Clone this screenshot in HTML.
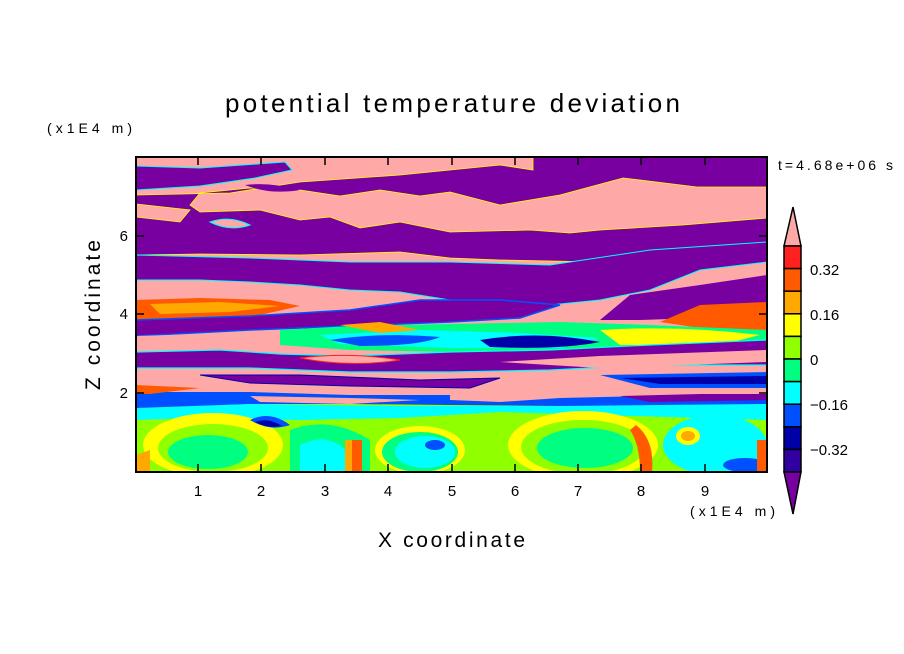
<!DOCTYPE html>
<html><head><meta charset="utf-8"><style>
html,body{margin:0;padding:0;background:#fff;}
svg{display:block;font-family:"Liberation Sans","DejaVu Sans",sans-serif;}
</style></head><body>
<svg width="904" height="654" viewBox="0 0 904 654" xmlns="http://www.w3.org/2000/svg">
<rect width="904" height="654" fill="#fff"/>
<defs><clipPath id="c"><rect x="136" y="157" width="631" height="315"/></clipPath></defs>
<g clip-path="url(#c)">
<rect x="136" y="157" width="631" height="250" fill="#ffa8a8"/>
<rect x="136" y="400" width="631" height="72" fill="#90ff00"/>
<path d="M136,166 L200,168 L285,162 L292,170 L255,178 L200,186 L136,190 Z" fill="#7800a0" stroke="#00ffff" stroke-width="1"/>
<path d="M533,157 L767,157 L767,187 L697,187 L623,178 L560,195 L530,200 L500,205 L450,192 L420,196 L380,190 L340,196 L300,190 L250,188 L200,193 L190,205 L200,212 L260,210 L300,220 L330,217 L360,228 L400,222 L450,232 L530,230 L570,233 L600,230 L683,225 L767,218 L767,245 L700,250 L600,262 L500,260 L450,258 L400,252 L300,255 L200,254 L136,255 L136,217 L180,222 L190,210 L136,204 L136,195 L230,193 L300,182 L400,175 L450,170 L500,165 L533,170 Z" fill="#7800a0" stroke="#ffff00" stroke-width="0.8"/>
<path d="M210,222 Q230,215 250,225 Q230,232 210,222 Z" fill="#ffa8a8" stroke="#00ffff"/>
<path d="M245,185 Q270,182 300,190 Q270,195 245,185Z" fill="#7800a0"/>
<path d="M136,255 L250,258 L350,262 L450,262 L550,265 L650,250 L767,242 L767,262 L700,270 L650,290 L600,300 L550,305 L500,305 L450,300 L400,292 L350,290 L300,285 L250,282 L200,280 L136,280 Z" fill="#7800a0" stroke="#00ffff" stroke-width="1"/>
<path d="M630,295 L700,285 L767,275 L767,310 L700,318 L640,320 L600,320 Z" fill="#7800a0"/>
<path d="M136,300 L200,298 L270,300 L300,306 L260,315 L200,318 L136,320 Z" fill="#ff5a00"/>
<path d="M150,304 L220,302 L280,306 L230,312 L160,314 Z" fill="#ffa800"/>
<path d="M700,305 L767,302 L767,330 L700,328 L660,322 Z" fill="#ff5a00"/>
<path d="M136,320 L250,316 L350,310 L420,300 L500,300 L560,305 L520,318 L450,322 L350,326 L250,330 L136,336 Z" fill="#7800a0" stroke="#0050ff" stroke-width="1.5"/>
<path d="M280,330 L350,326 L450,324 L560,322 L650,325 L767,330 L767,348 L650,350 L550,352 L450,352 L350,350 L280,345 Z" fill="#00ff80"/>
<path d="M320,335 L420,330 L520,333 L600,338 L560,348 L450,348 L340,344 Z" fill="#00ffff"/>
<path d="M330,340 Q380,332 440,337 Q420,346 360,346 Z" fill="#0050ff"/>
<path d="M480,340 Q540,330 600,342 Q560,350 490,347 Z" fill="#0000a8"/>
<path d="M600,330 Q680,325 760,335 L720,345 L620,345 Z" fill="#ffff00"/>
<path d="M340,325 L380,322 L420,330 L380,333 Z" fill="#ffa800"/>
<path d="M136,352 L220,350 L280,354 L350,356 L450,352 L550,350 L650,345 L767,340 L767,365 L650,365 L550,370 L450,372 L350,372 L250,368 L136,368 Z" fill="#7800a0" stroke="#00ffff" stroke-width="1.2"/>
<path d="M300,358 Q350,352 400,360 Q350,368 300,358Z" fill="#ffa8a8" stroke="#ff2020"/>
<path d="M500,362 L600,356 L767,350 L767,362 L600,368 Z" fill="#ffa8a8"/>
<path d="M136,336 L200,334 L280,340 L230,348 L136,350 Z" fill="#ffa8a8"/>
<path d="M136,370 L250,370 L350,374 L450,374 L550,372 L650,370 L767,368 L767,392 L650,392 L550,395 L450,392 L350,390 L250,386 L136,385 Z" fill="#ffa8a8"/>
<path d="M200,375 L300,375 L420,380 L500,378 L470,388 L350,386 L250,383 Z" fill="#7800a0" stroke="#0000a8"/>
<path d="M600,375 L767,372 L767,388 L650,388 Z" fill="#0050ff"/>
<path d="M620,378 L767,376 L767,384 L660,384 Z" fill="#0000a8"/>
<path d="M136,392 L250,392 L350,395 L450,395 L560,398 L650,396 L767,394 L767,406 L650,408 L560,406 L450,405 L350,404 L250,404 L136,410 Z" fill="#0050ff"/>
<path d="M250,396 L350,398 L420,400 L350,404 L260,402 Z" fill="#ffa8a8"/>
<path d="M450,390 L530,388 L560,398 L500,402 L450,400 Z" fill="#ffa8a8"/>
<path d="M620,396 L700,394 L767,394 L767,400 L650,402 Z" fill="#7800a0"/>
<path d="M136,385 L200,388 L150,394 L136,394 Z" fill="#ff5a00"/>
<path d="M136,408 L250,404 L400,406 L560,406 L767,404 L767,420 L700,418 L600,415 L500,412 L400,418 L300,420 L200,418 L136,420 Z" fill="#00ffff"/>
<ellipse cx="213" cy="445" rx="70" ry="32" fill="#ffff00"/>
<ellipse cx="213" cy="448" rx="55" ry="24" fill="#90ff00"/>
<ellipse cx="208" cy="452" rx="40" ry="17" fill="#00ff80"/>
<path d="M250,420 Q270,410 290,425 Q270,432 250,420Z" fill="#0050ff"/>
<path d="M255,422 Q268,417 282,426 Q268,429 255,422Z" fill="#0000a8"/>
<path d="M290,430 Q330,415 370,440 L370,472 L290,472 Z" fill="#00ff80"/>
<path d="M300,445 Q330,430 350,455 L350,472 L300,472Z" fill="#00ffff"/>
<path d="M352,440 L362,440 L362,472 L352,472 Z" fill="#ff5a00"/>
<path d="M345,440 L352,440 L352,472 L345,472 Z" fill="#ffa800"/>
<ellipse cx="420" cy="450" rx="45" ry="24" fill="#ffff00"/>
<ellipse cx="420" cy="452" rx="38" ry="20" fill="#00ff80"/>
<ellipse cx="425" cy="452" rx="30" ry="16" fill="#00ffff"/>
<ellipse cx="435" cy="445" rx="10" ry="5" fill="#0050ff"/>
<ellipse cx="583" cy="445" rx="75" ry="34" fill="#ffff00"/>
<ellipse cx="583" cy="447" rx="62" ry="27" fill="#90ff00"/>
<ellipse cx="585" cy="448" rx="48" ry="20" fill="#00ff80"/>
<path d="M636,425 Q655,440 652,472 L640,472 Q640,445 630,430Z" fill="#ff5a00"/>
<ellipse cx="715" cy="445" rx="52" ry="30" fill="#00ffff"/>
<ellipse cx="688" cy="436" rx="12" ry="9" fill="#ffff00"/>
<ellipse cx="688" cy="436" rx="7" ry="5" fill="#ffa800"/>
<ellipse cx="745" cy="465" rx="22" ry="7" fill="#0050ff"/>
<path d="M757,440 L767,440 L767,472 L757,472 Z" fill="#ff5a00"/>
<path d="M136,455 L150,450 L150,472 L136,472 Z" fill="#ffa800"/>
</g>
<rect x="136" y="157" width="631" height="315" fill="none" stroke="#000" stroke-width="2"/>
<g stroke="#000" stroke-width="1.5">
<path d="M198,472v-8M261,472v-8M325,472v-8M388,472v-8M452,472v-8M515,472v-8M578,472v-8M641,472v-8M705,472v-8"/>
<path d="M198,157v8M261,157v8M325,157v8M388,157v8M452,157v8M515,157v8M578,157v8M641,157v8M705,157v8"/>
<path d="M136,393h8M136,314h8M136,236h8M767,393h-8M767,314h-8M767,236h-8"/>
</g>
<g font-size="15" fill="#000" text-anchor="middle">
<text x="198" y="496">1</text><text x="261" y="496">2</text><text x="325" y="496">3</text><text x="388" y="496">4</text><text x="452" y="496">5</text><text x="515" y="496">6</text><text x="578" y="496">7</text><text x="641" y="496">8</text><text x="705" y="496">9</text>
</g>
<g font-size="15" fill="#000" text-anchor="end">
<text x="128" y="398">2</text><text x="128" y="319">4</text><text x="128" y="241">6</text>
</g>
<text x="225" y="112" font-size="26" textLength="455" lengthAdjust="spacing" fill="#000">potential temperature deviation</text>
<text x="47" y="133" font-size="14" textLength="85" lengthAdjust="spacing" fill="#000">(x1E4 m)</text>
<text x="690" y="516" font-size="14" textLength="85" lengthAdjust="spacing" fill="#000">(x1E4 m)</text>
<text x="378" y="547" font-size="21" textLength="147" lengthAdjust="spacing" fill="#000">X coordinate</text>
<text transform="translate(100,390) rotate(-90)" font-size="21" textLength="150" lengthAdjust="spacing" fill="#000">Z coordinate</text>
<text x="778" y="170" font-size="14" textLength="115" lengthAdjust="spacing" fill="#000">t=4.68e+06 s</text>
<g stroke="#000" stroke-width="1.5">
<path d="M793,207 L801,246 L784,246 Z" fill="#ffa8a8"/>
<rect x="784" y="246" width="17" height="22.6" fill="#ff2020"/>
<rect x="784" y="268.6" width="17" height="22.6" fill="#ff5a00"/>
<rect x="784" y="291.2" width="17" height="22.6" fill="#ffa800"/>
<rect x="784" y="313.8" width="17" height="22.6" fill="#ffff00"/>
<rect x="784" y="336.4" width="17" height="22.6" fill="#90ff00"/>
<rect x="784" y="359" width="17" height="22.6" fill="#00ff80"/>
<rect x="784" y="381.6" width="17" height="22.6" fill="#00ffff"/>
<rect x="784" y="404.2" width="17" height="22.6" fill="#0050ff"/>
<rect x="784" y="426.8" width="17" height="22.6" fill="#0000a8"/>
<rect x="784" y="449.4" width="17" height="22.6" fill="#3000a0"/>
<path d="M784,472 L801,472 L793,514 Z" fill="#7800a0"/>
</g>
<g font-size="15" fill="#000">
<text x="810" y="275">0.32</text><text x="810" y="320">0.16</text><text x="810" y="365">0</text><text x="810" y="410">−0.16</text><text x="810" y="455">−0.32</text>
</g>
</svg>
</body></html>
